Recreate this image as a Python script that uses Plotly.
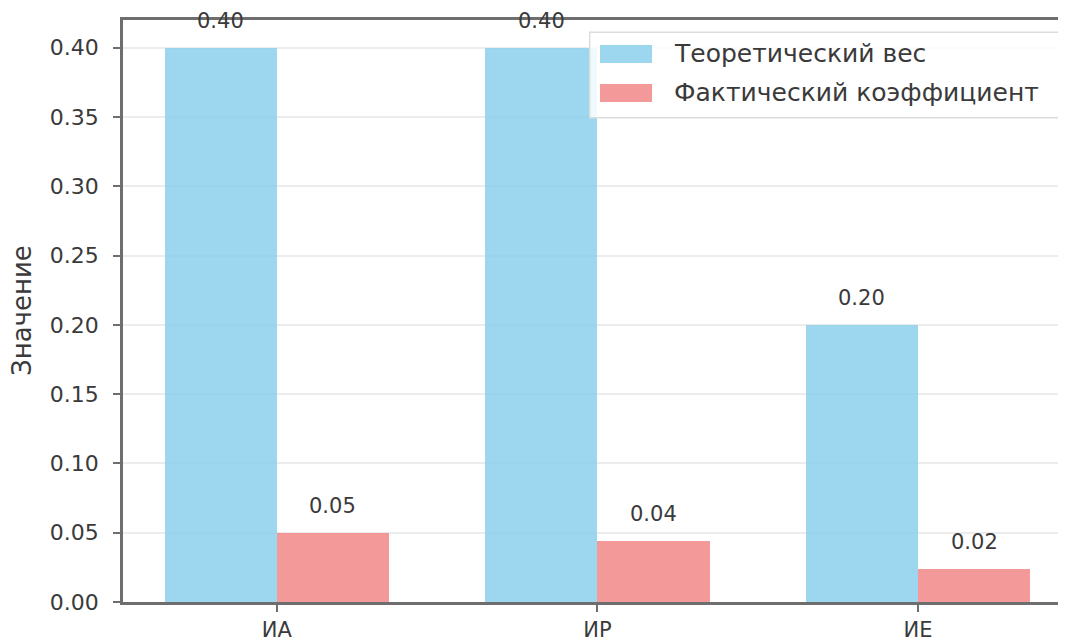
import plotly.graph_objects as go

categories = ["ИА", "ИР", "ИЕ"]
series_names = ["Теоретический вес", "Фактический коэффициент"]
y_title = "Значение"
theoretical = [0.40, 0.40, 0.20]
actual = [0.050, 0.044, 0.024]

colors = ["rgba(135,206,235,0.82)", "rgba(240,128,128,0.80)"]
bar_w = 0.35
FONT = "DejaVu Sans"
TXT = "#3a3a3a"
AX = "#6e6e6e"

xpos = list(range(len(categories)))
fig = go.Figure()
for k, (vals, name, col) in enumerate(zip([theoretical, actual], series_names, colors)):
    fig.add_trace(go.Bar(
        x=xpos, y=vals, name=name, width=bar_w,
        offset=-bar_w if k == 0 else 0,
        marker=dict(color=col, line=dict(width=0)),
        showlegend=False,
    ))
    for xi, v in zip(xpos, vals):
        fig.add_annotation(
            x=xi + (-bar_w / 2 if k == 0 else bar_w / 2), y=v,
            text=f"{v:.2f}", showarrow=False, yshift=27,
            font=dict(family=FONT, size=21, color=TXT),
        )

# custom legend (large swatches like matplotlib)
lx0, lx1, ly0, ly1 = 0.497, 0.9989, 0.832, 0.979
fig.add_shape(type="rect", xref="paper", yref="paper", x0=lx0, x1=lx1, y0=ly0, y1=ly1,
              fillcolor="rgba(255,255,255,0.85)", line=dict(color="#dcdcdc", width=1.5))
rows = [0.9416, 0.8746]
for name, col, ry in zip(series_names, colors, rows):
    fig.add_shape(type="rect", xref="paper", yref="paper", x0=0.508, x1=0.5634,
                  y0=ry - 0.0155, y1=ry + 0.0155, fillcolor=col, line=dict(width=0))
    fig.add_annotation(xref="paper", yref="paper", x=0.5847, y=ry, xanchor="left",
                       yanchor="middle", text=name, showarrow=False,
                       font=dict(family=FONT, size=25, color=TXT))

# y-axis title placed like the reference
fig.add_annotation(xref="paper", yref="paper", x=0, y=0.5, xshift=-101,
                   text=y_title, textangle=-90, showarrow=False,
                   xanchor="center", yanchor="middle",
                   font=dict(family=FONT, size=26, color=TXT))

# page body has an 8px margin; compensate so the plot lands where the reference has it
fig.update_layout(
    width=1058, height=633,
    margin=dict(l=115, r=4, t=12, b=39),
    paper_bgcolor="white", plot_bgcolor="white",
    font=dict(family=FONT, size=22, color=TXT),
    bargap=0,
)
fig.update_xaxes(
    range=[-0.48, 2.449], tickvals=xpos, ticktext=categories,
    showline=True, linecolor=AX, linewidth=2.5, mirror=True,
    ticks="outside", ticklen=7, tickwidth=2, tickcolor=AX,
    showgrid=False, zeroline=False, automargin=False,
    tickfont=dict(family=FONT, size=21, color=TXT),
)
fig.update_yaxes(
    range=[0, 0.42], tickvals=[0, 0.05, 0.10, 0.15, 0.20, 0.25, 0.30, 0.35, 0.40],
    tickformat=".2f",
    showline=True, linecolor=AX, linewidth=2.5,
    ticks="outside", ticklen=7, tickwidth=2, tickcolor=AX,
    showgrid=True, gridcolor="#ececec", gridwidth=1.5, zeroline=False,
    automargin=False, ticklabelstandoff=10,
    tickfont=dict(family=FONT, size=22, color=TXT),
)

fig.write_html("out.html")
